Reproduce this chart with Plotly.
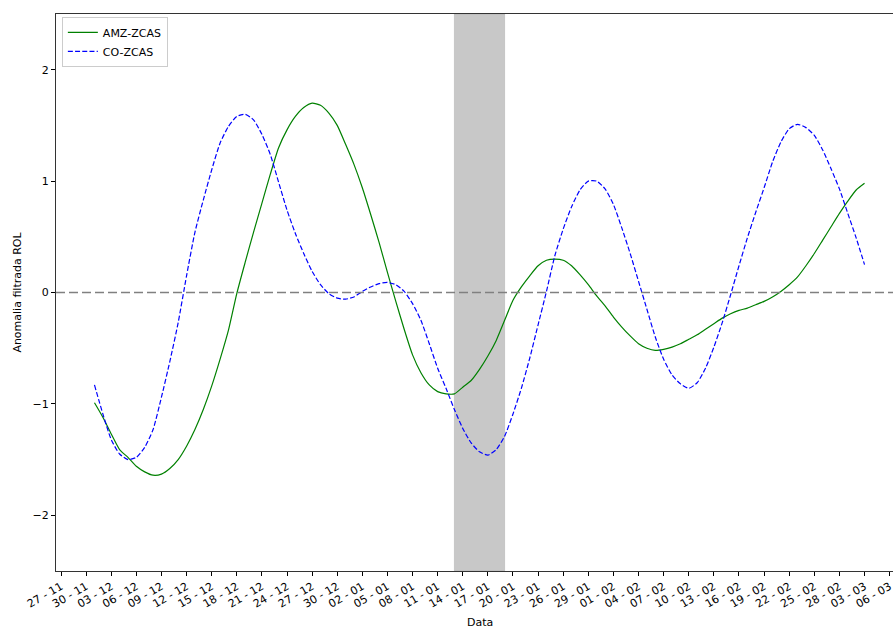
import pandas as pd
import plotly.graph_objects as go

# ---- data ----
dates = pd.date_range("2014-12-01", "2015-03-03", freq="D")

amz_zcas = [
    -0.99, -1.12, -1.27, -1.41, -1.48, -1.56, -1.61, -1.64, -1.63, -1.58,
    -1.50, -1.38, -1.23, -1.05, -0.84, -0.60, -0.34, -0.01, 0.27, 0.54,
    0.80, 1.06, 1.30, 1.46, 1.58, 1.66, 1.70, 1.68, 1.61, 1.50,
    1.33, 1.15, 0.94, 0.70, 0.45, 0.18, -0.08, -0.33, -0.56, -0.72,
    -0.83, -0.89, -0.91, -0.91, -0.85, -0.79, -0.69, -0.57, -0.43, -0.25,
    -0.07, 0.05, 0.15, 0.24, 0.29, 0.30, 0.29, 0.24, 0.16, 0.07,
    -0.03, -0.12, -0.22, -0.31, -0.39, -0.46, -0.50, -0.52, -0.51, -0.49,
    -0.46, -0.42, -0.38, -0.33, -0.28, -0.23, -0.19, -0.16, -0.14, -0.11,
    -0.08, -0.04, 0.01, 0.07, 0.14, 0.24, 0.35, 0.47, 0.59, 0.71,
    0.82, 0.92, 0.98,
]

co_zcas = [
    -0.83, -1.09, -1.32, -1.45, -1.50, -1.48, -1.39, -1.23, -0.94, -0.62,
    -0.27, 0.15, 0.54, 0.83, 1.10, 1.34, 1.49, 1.58, 1.60, 1.55,
    1.42, 1.24, 0.99, 0.74, 0.53, 0.35, 0.19, 0.07, -0.01, -0.05,
    -0.06, -0.04, 0.01, 0.05, 0.08, 0.09, 0.07, 0.01, -0.10, -0.25,
    -0.46, -0.68, -0.86, -1.05, -1.22, -1.35, -1.43, -1.46, -1.41, -1.29,
    -1.09, -0.86, -0.59, -0.29, 0.01, 0.33, 0.57, 0.77, 0.92, 1.00,
    1.00, 0.93, 0.79, 0.58, 0.35, 0.10, -0.15, -0.40, -0.60, -0.74,
    -0.82, -0.86, -0.81, -0.68, -0.49, -0.27, -0.02, 0.24, 0.49, 0.72,
    0.94, 1.17, 1.35, 1.47, 1.51, 1.48, 1.41, 1.28, 1.11, 0.93,
    0.71, 0.49, 0.25,
]

tick_dates = pd.date_range("2014-11-27", "2015-03-06", freq="3D")
tick_labels = [d.strftime("%d - %m") for d in tick_dates]

event_start = "2015-01-13"
event_end = "2015-01-19"

x_range = ["2014-11-26 09:40", "2015-03-06 09:36"]
y_range = [-2.5, 2.5]

# ---- figure ----
FONT = "DejaVu Sans"
fig = go.Figure()

fig.add_trace(go.Scatter(
    x=dates, y=amz_zcas, mode="lines", name="AMZ-ZCAS",
    line=dict(color="green", width=1.2, shape="spline", smoothing=0.6),
))
fig.add_trace(go.Scatter(
    x=dates, y=co_zcas, mode="lines", name="CO-ZCAS",
    line=dict(color="blue", width=1.2, dash="5px,2.2px", shape="spline", smoothing=0.6),
))

fig.add_shape(
    type="rect", xref="x", yref="paper", x0=event_start, x1=event_end,
    y0=0, y1=1, fillcolor="rgba(128,128,128,0.43)",
    line=dict(color="rgba(128,128,128,0.25)", width=1), layer="below",
)
fig.add_shape(
    type="line", xref="paper", yref="y", x0=0, x1=1, y0=0, y1=0,
    line=dict(color="gray", width=1.6, dash="9px,4px"), layer="above",
)

fig.add_annotation(
    text="Data", xref="paper", yref="paper", x=0.506, y=-0.093,
    xanchor="center", yanchor="middle", showarrow=False,
    font=dict(family=FONT, size=11, color="black"),
)

fig.update_layout(
    width=893, height=631,
    margin=dict(l=56, r=0, t=14, b=60),
    paper_bgcolor="white", plot_bgcolor="white",
    font=dict(family=FONT, size=11, color="black"),
    showlegend=True,
    legend=dict(
        x=0.007, y=0.995, xanchor="left", yanchor="top",
        bgcolor="rgba(255,255,255,0.8)", bordercolor="#cccccc", borderwidth=1,
        font=dict(family=FONT, size=11, color="black"),
        itemwidth=30, tracegroupgap=0,
    ),
    xaxis=dict(
        range=x_range, tickmode="array", tickvals=tick_dates, ticktext=tick_labels,
        tickangle=-30, ticks="outside", ticklen=4, tickcolor="black",
        ticklabeloverflow="allow",
        showgrid=False, zeroline=False,
        showline=True, linecolor="#333333", linewidth=1, mirror=True,
        tickfont=dict(family=FONT, size=11, color="black"),
    ),
    yaxis=dict(
        range=y_range, tickmode="array", tickvals=[-2, -1, 0, 1, 2],
        ticktext=["\u22122", "\u22121", "0", "1", "2"],
        ticks="outside", ticklen=4, tickcolor="black",
        showgrid=False, zeroline=False,
        showline=True, linecolor="#333333", linewidth=1,
        title=dict(text="Anomalia filtrada ROL", standoff=8,
                   font=dict(family=FONT, size=11, color="black")),
        tickfont=dict(family=FONT, size=11, color="black"),
    ),
)

fig.write_html("out.html")
